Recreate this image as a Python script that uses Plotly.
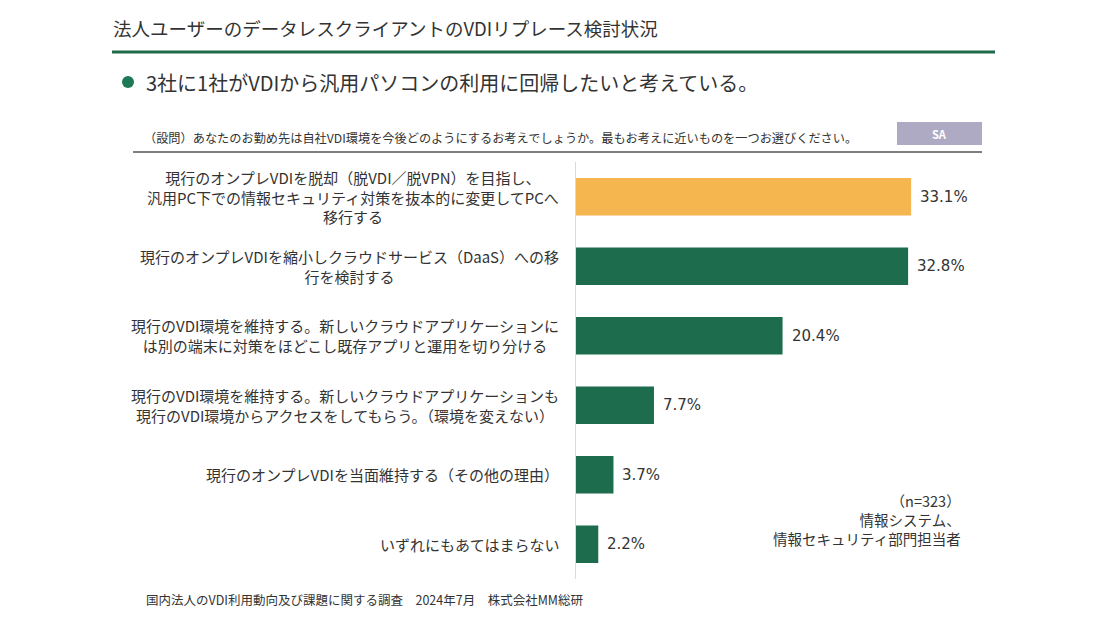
import plotly.graph_objects as go

categories = [
    "現行のオンプレVDIを脱却（脱VDI／脱VPN）を目指し、<br>汎用PC下での情報セキュリティ対策を抜本的に変更してPCへ<br>移行する",
    "現行のオンプレVDIを縮小しクラウドサービス（DaaS）への移<br>行を検討する",
    "現行のVDI環境を維持する。新しいクラウドアプリケーションに<br>は別の端末に対策をほどこし既存アプリと運用を切り分ける",
    "現行のVDI環境を維持する。新しいクラウドアプリケーションも<br>現行のVDI環境からアクセスをしてもらう。（環境を変えない）",
    "現行のオンプレVDIを当面維持する（その他の理由）",
    "いずれにもあてはまらない",
]
values = [33.1, 32.8, 20.4, 7.7, 3.7, 2.2]
value_labels = ["33.1%", "32.8%", "20.4%", "7.7%", "3.7%", "2.2%"]

title_text = "法人ユーザーのデータレスクライアントのVDIリプレース検討状況"
headline = "3社に1社がVDIから汎用パソコンの利用に回帰したいと考えている。"
question = "（設問）あなたのお勤め先は自社VDI環境を今後どのようにするお考えでしょうか。最もお考えに近いものを一つお選びください。"
source = "国内法人のVDI利用動向及び課題に関する調査　2024年7月　株式会社MM総研"
sample_note = "（n=323）<br>情報システム、<br>情報セキュリティ部門担当者"

ORANGE = "#f5b54f"
GREEN = "#1c6c4d"
TEXT = "#333333"
FONT = "Noto Sans CJK JP"
NUMFONT = "DejaVu Sans"

# page has an 8px body margin; figure coords = page coords - 8
OFF = 8
W, H = 1084, 616
L, R, T, B = 576 - OFF, 981 - OFF, 162 - OFF, 579 - OFF


def px(x):
    return (x - OFF - L) / (R - L)


def py(y):
    return (B - (y - OFF)) / (B - T)


colors = [ORANGE] + [GREEN] * (len(values) - 1)

fig = go.Figure(
    go.Bar(
        x=values,
        y=categories,
        orientation="h",
        marker=dict(color=colors, line=dict(width=0)),
        hoverinfo="skip",
    )
)

annotations = []
for c, v, lab in zip(categories, values, value_labels):
    annotations.append(dict(
        x=v, y=c, xref="x", yref="y", text=lab, showarrow=False,
        xanchor="left", yanchor="middle", xshift=7,
        font=dict(family=NUMFONT, size=15, color=TEXT),
    ))
    annotations.append(dict(
        x=0, y=c, xref="paper", yref="y", text=c, showarrow=False,
        xanchor="right", yanchor="middle", xshift=-15, align="center",
        font=dict(family=FONT, size=15, color=TEXT),
    ))

annotations += [
    dict(x=px(111), y=py(28), xref="paper", yref="paper", text=title_text,
         showarrow=False, xanchor="left", yanchor="middle",
         font=dict(family=FONT, size=18.5, color=TEXT)),
    dict(x=px(144), y=py(82), xref="paper", yref="paper", text=headline,
         showarrow=False, xanchor="left", yanchor="middle",
         font=dict(family=FONT, size=20, color=TEXT)),
    dict(x=px(142), y=py(138), xref="paper", yref="paper", text=question,
         showarrow=False, xanchor="left", yanchor="middle",
         font=dict(family=FONT, size=12.2, color=TEXT)),
    dict(x=px(939.5), y=py(133.5), xref="paper", yref="paper", text="<b>SA</b>",
         showarrow=False, xanchor="center", yanchor="middle",
         font=dict(family=FONT, size=11, color="white")),
    dict(x=px(144), y=py(599), xref="paper", yref="paper", text=source,
         showarrow=False, xanchor="left", yanchor="middle",
         font=dict(family=FONT, size=12.5, color=TEXT)),
    dict(x=px(963), y=py(519), xref="paper", yref="paper", text=sample_note,
         showarrow=False, xanchor="right", yanchor="middle", align="right",
         font=dict(family=FONT, size=14.5, color=TEXT)),
]

shapes = [
    dict(type="line", xref="paper", yref="paper", x0=px(112), x1=px(995),
         y0=py(52), y1=py(52), line=dict(color="#1f6b49", width=3)),
    dict(type="line", xref="paper", yref="paper", x0=px(133), x1=px(982),
         y0=py(152), y1=py(152), line=dict(color="#555555", width=1.5)),
    dict(type="rect", xref="paper", yref="paper", x0=px(897), x1=px(982),
         y0=py(122), y1=py(145), line=dict(width=0), fillcolor="#aeaac4"),
    dict(type="circle", xref="paper", yref="paper", x0=px(122), x1=px(134),
         y0=py(76), y1=py(88), line=dict(width=0), fillcolor="#1e7a55"),
]

fig.update_layout(
    width=W, height=H,
    margin=dict(l=L, r=W - R, t=T, b=H - B),
    paper_bgcolor="white", plot_bgcolor="white",
    showlegend=False, bargap=0.46,
    font=dict(family=FONT, color=TEXT),
    xaxis=dict(range=[0, 40], visible=False, fixedrange=True),
    yaxis=dict(autorange="reversed", showticklabels=False, ticks="",
               showgrid=False, zeroline=False, showline=True,
               linecolor="#d9d9d9", linewidth=1, fixedrange=True),
    annotations=annotations,
    shapes=shapes,
)

fig.write_html("out.html")
